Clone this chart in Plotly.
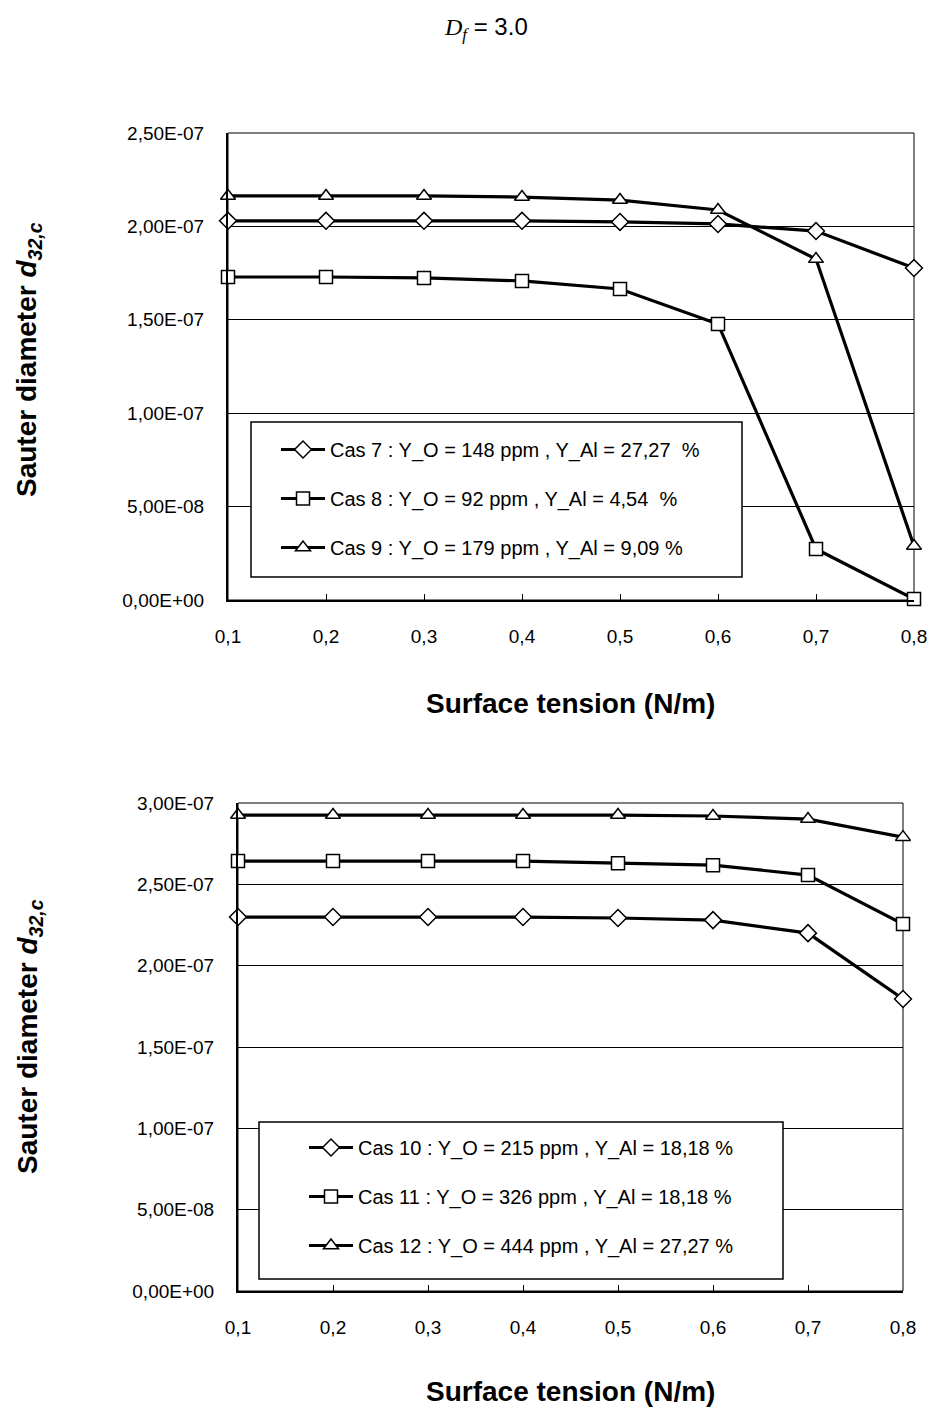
import plotly.graph_objects as go

# ---------------- data ----------------
x_vals = [0.1, 0.2, 0.3, 0.4, 0.5, 0.6, 0.7, 0.8]
x_ticktext = ["0,1", "0,2", "0,3", "0,4", "0,5", "0,6", "0,7", "0,8"]

cas7 = [2.03e-7, 2.03e-7, 2.03e-7, 2.03e-7, 2.024e-7, 2.013e-7, 1.975e-7, 1.777e-7]
cas8 = [1.729e-7, 1.729e-7, 1.724e-7, 1.708e-7, 1.665e-7, 1.478e-7, 0.273e-7, 0.005e-7]
cas9 = [2.163e-7, 2.163e-7, 2.163e-7, 2.157e-7, 2.141e-7, 2.088e-7, 1.825e-7, 0.289e-7]

cas10 = [2.299e-7, 2.299e-7, 2.299e-7, 2.299e-7, 2.293e-7, 2.28e-7, 2.2e-7, 1.795e-7]
cas11 = [2.643e-7, 2.643e-7, 2.643e-7, 2.643e-7, 2.63e-7, 2.618e-7, 2.557e-7, 2.256e-7]
cas12 = [2.926e-7, 2.926e-7, 2.926e-7, 2.926e-7, 2.926e-7, 2.92e-7, 2.901e-7, 2.79e-7]

top_names = [
    "Cas 7 : Y_O = 148 ppm , Y_Al = 27,27  %",
    "Cas 8 : Y_O = 92 ppm , Y_Al = 4,54  %",
    "Cas 9 : Y_O = 179 ppm , Y_Al = 9,09 %",
]
bottom_names = [
    "Cas 10 : Y_O = 215 ppm , Y_Al = 18,18 %",
    "Cas 11 : Y_O = 326 ppm , Y_Al = 18,18 %",
    "Cas 12 : Y_O = 444 ppm , Y_Al = 27,27 %",
]
symbols = ["diamond", "square", "triangle-up"]

top_yticks = [0, 5e-8, 1e-7, 1.5e-7, 2e-7, 2.5e-7]
top_yticktext = ["0,00E+00", "5,00E-08", "1,00E-07", "1,50E-07", "2,00E-07", "2,50E-07"]
bottom_yticks = [0, 5e-8, 1e-7, 1.5e-7, 2e-7, 2.5e-7, 3e-7]
bottom_yticktext = ["0,00E+00", "5,00E-08", "1,00E-07", "1,50E-07", "2,00E-07", "2,50E-07", "3,00E-07"]

# ---------------- figure ----------------
W, H = 935, 1410
FONT = "Liberation Sans, Arial, sans-serif"

fig = go.Figure()

def add_series(yv, name, sym, xa, ya, leg, grp):
    fig.add_trace(go.Scatter(
        x=x_vals, y=yv, name=name, mode="lines+markers",
        xaxis=xa, yaxis=ya, legend=leg, legendgroup=grp,
        line=dict(color="black", width=3.2),
        marker=dict(symbol=sym, size=13, color="white",
                    line=dict(color="black", width=1.5)),
        cliponaxis=False,
    ))

for i, (s, n) in enumerate(zip([cas7, cas8, cas9], top_names)):
    add_series(s, n, symbols[i], "x", "y", "legend", "t%d" % i)
for i, (s, n) in enumerate(zip([cas10, cas11, cas12], bottom_names)):
    add_series(s, n, symbols[i], "x2", "y2", "legend2", "b%d" % i)

def px_x(p):
    return p / W

def px_y(p):
    return 1 - p / H

tickfont = dict(family=FONT, size=19, color="black")

xcommon = dict(range=[0.1, 0.8], tickvals=x_vals, ticktext=x_ticktext,
               showline=True, linecolor="black", linewidth=2,
               ticks="inside", ticklen=6, tickcolor="black", tickwidth=1,
               showgrid=False, zeroline=False, tickfont=tickfont,
               ticklabelstandoff=18, fixedrange=True, automargin=False)
ycommon = dict(showline=True, linecolor="black", linewidth=2,
               ticks="", showgrid=True, gridcolor="black", gridwidth=1,
               zeroline=False, tickfont=tickfont, ticklabelstandoff=18,
               fixedrange=True, automargin=False)

legfont = dict(family=FONT, size=20, color="black")

fig.update_layout(
    width=W, height=H,
    margin=dict(l=0, r=0, t=0, b=0, autoexpand=False),
    paper_bgcolor="white", plot_bgcolor="white",
    font=dict(family=FONT, color="black"),
    xaxis=dict(domain=[px_x(228), px_x(914)], anchor="y", **xcommon),
    yaxis=dict(domain=[px_y(600), px_y(133)], anchor="x", range=[0, 2.5e-7],
               tickvals=top_yticks, ticktext=top_yticktext, **ycommon),
    xaxis2=dict(domain=[px_x(238), px_x(903)], anchor="y2", **xcommon),
    yaxis2=dict(domain=[px_y(1291), px_y(803)], anchor="x2", range=[0, 3e-7],
                tickvals=bottom_yticks, ticktext=bottom_yticktext, **ycommon),
    legend=dict(x=px_x(276), y=px_y(430), xanchor="left", yanchor="top",
                bgcolor="rgba(0,0,0,0)", borderwidth=0, font=legfont,
                tracegroupgap=20, itemwidth=44),
    legend2=dict(x=px_x(304), y=px_y(1128), xanchor="left", yanchor="top",
                 bgcolor="rgba(0,0,0,0)", borderwidth=0, font=legfont,
                 tracegroupgap=20, itemwidth=44),
    showlegend=True,
)

# plot-area frames (top & right border)
for xa, ya in [("x", "y"), ("x2", "y2")]:
    fig.add_shape(type="rect", xref=xa + " domain", yref=ya + " domain",
                  x0=0, x1=1, y0=0, y1=1, line=dict(color="black", width=1),
                  layer="below")

# legend frames (white boxes covering the gridlines)
for (l, t, r, b) in [(251, 422, 742, 577), (259, 1122, 783, 1279)]:
    fig.add_shape(type="rect", xref="paper", yref="paper",
                  x0=px_x(l), x1=px_x(r), y0=px_y(b), y1=px_y(t),
                  line=dict(color="black", width=1.5), fillcolor="white",
                  layer="above")

ytitle = "<b>Sauter diameter <i>d</i><sub><i>32,c</i></sub></b>"
xtitle = "<b>Surface tension (N/m)</b>"
ann = []
ann.append(dict(text='<span style="font-family:Liberation Serif"><i>D</i><sub><i>f</i></sub></span> = 3.0',
                x=px_x(486), y=px_y(28), xref="paper", yref="paper",
                xanchor="center", yanchor="middle",
                showarrow=False, font=dict(family=FONT, size=24, color="black")))
for yc in [360, 1037]:
    ann.append(dict(text=ytitle, x=px_x(29), y=px_y(yc), xref="paper", yref="paper",
                    xanchor="center", yanchor="middle",
                    textangle=-90, showarrow=False,
                    font=dict(family=FONT, size=28, color="black")))
for yc in [703, 1391]:
    ann.append(dict(text=xtitle, x=px_x(570), y=px_y(yc), xref="paper", yref="paper",
                    xanchor="center", yanchor="middle",
                    showarrow=False, font=dict(family=FONT, size=28, color="black")))
fig.update_layout(annotations=ann)

fig.write_html("out.html",
               config={"displayModeBar": False, "staticPlot": True},
               post_script="document.body.style.margin='0px';"
                           "document.body.style.overflow='hidden';")
